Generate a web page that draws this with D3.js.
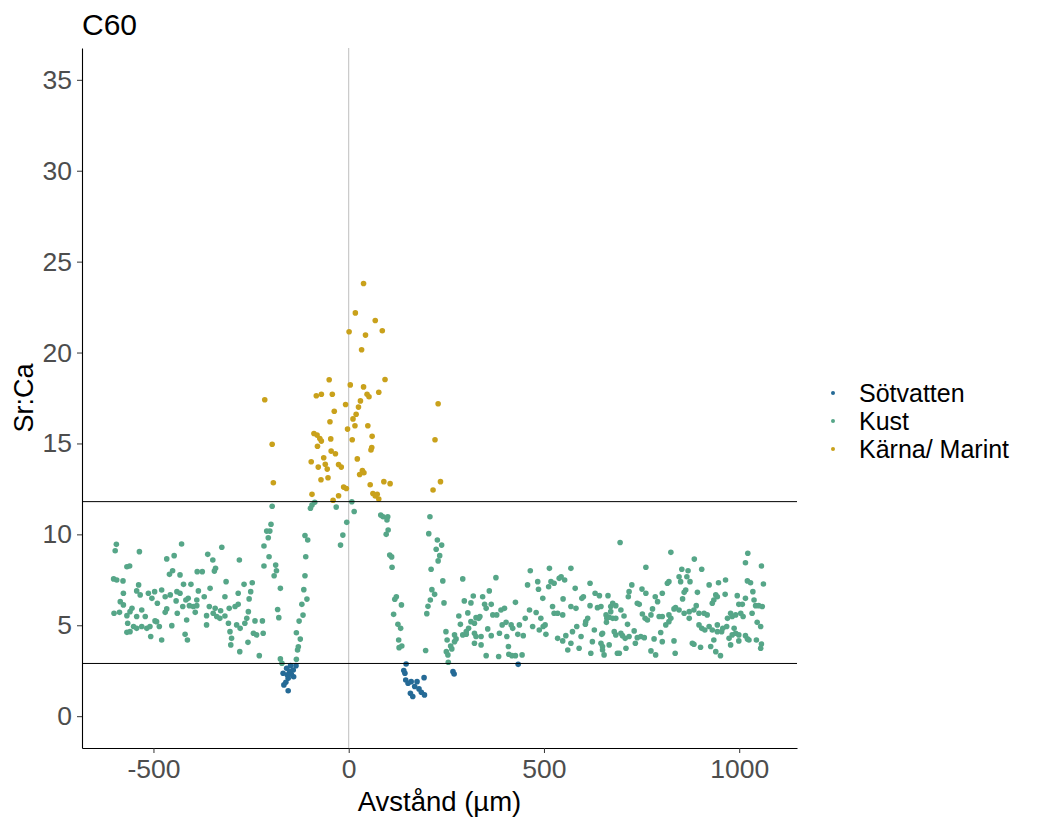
<!DOCTYPE html>
<html>
<head>
<meta charset="utf-8">
<script src="https://cdn.jsdelivr.net/npm/d3@7"></script>
<style>
  body { margin: 0; background: #fff; }
  svg text { font-family: "Liberation Sans", Arial, sans-serif; }
</style>
</head>
<body>
<svg id="chart" width="1040" height="825"></svg>
<script>
// Sr:Ca profile, C60, [avstånd µm, Sr:Ca]
const sotvatten = [
  [-149,2.78],[-135,2.78],[-159,2.63],[-142,2.54],[-168,2.36],[-151,2.45],[-141,2.17],
  [-155,2.08],[-161,1.86],[-166,1.72],[-155,1.40],[-147,2.30],[-157,2.27],
  [147,2.87],[141,2.51],[144,2.36],[146,1.99],[160,1.90],[175,1.90],[193,2.12],
  [169,1.63],[180,1.50],[186,1.32],[194,1.17],[158,1.26],[164,1.08],[152,1.81],
  [267,2.45],[270,2.32],[434,2.85]
];

const kust = [
  // vänster platå
  [-595,9.45],[-598,9.10],[-536,9.05],[-428,9.47],[-325,9.29],[-361,8.90],[-348,8.59],
  [-447,8.83],[-466,8.65],[-280,8.59],[-568,8.22],[-561,8.26],[-341,8.13],[-344,7.98],
  [-451,8.00],[-459,7.80],[-432,7.77],[-388,7.95],[-375,7.95],[-602,7.55],[-594,7.49],
  [-578,7.44],[-538,7.22],[-423,7.25],[-404,7.25],[-314,7.40],[-268,7.25],[-247,7.34],
  [-577,6.76],[-543,6.89],[-534,6.67],[-513,6.76],[-497,6.85],[-504,6.48],[-479,6.94],
  [-470,6.57],[-457,6.67],[-440,6.85],[-432,6.76],[-442,6.34],[-411,6.48],[-417,6.39],
  [-385,6.89],[-370,6.57],[-389,6.39],[-355,7.03],[-317,6.57],[-283,6.76],[-251,6.85],
  [-255,6.45],[-585,6.30],[-577,6.12],[-555,5.93],[-560,5.75],[-530,5.84],[-490,6.21],
  [-466,5.90],[-425,6.03],[-408,6.08],[-398,6.03],[-389,6.08],[-357,6.03],[-342,5.93],
  [-328,5.80],[-347,5.66],[-306,5.93],[-291,6.03],[-283,6.15],[-257,5.75],[-601,5.66],
  [-587,5.71],[-568,5.53],[-543,5.48],[-521,5.48],[-496,5.24],[-470,5.71],[-439,5.66],
  [-415,5.29],[-393,5.71],[-364,5.53],[-330,5.38],[-338,5.48],[-317,5.51],[-308,5.11],
  [-287,5.02],[-278,4.83],[-261,5.38],[-266,5.11],[-240,5.24],[-221,5.24],[-566,5.11],
  [-551,4.93],[-543,4.83],[-530,4.93],[-517,4.83],[-509,4.93],[-492,5.20],[-485,4.93],
  [-453,4.98],[-364,5.02],[-568,4.61],[-560,4.65],[-507,4.38],[-479,4.19],[-419,4.50],
  [-413,4.19],[-304,4.65],[-300,4.28],[-302,3.92],[-258,4.06],[-244,4.56],[-236,4.47],
  [-219,4.56],[-279,3.55],[-229,3.33],
  // nedgång / uppgång runt kärnan
  [-196,11.55],[-199,10.56],[-210,10.18],[-202,10.18],[-206,9.81],[-217,9.36],[-204,8.77],
  [-217,8.26],[-187,8.31],[-185,8.00],[-191,7.72],[-175,7.03],[-182,5.87],[-179,5.42],
  [-175,3.15],[-171,2.91],[-134,3.13],[-131,3.64],[-129,3.82],[-124,4.24],[-134,4.59],
  [-127,5.23],[-117,5.56],[-120,6.15],[-107,6.44],[-115,6.96],[-112,7.72],[-110,8.77],
  [-105,9.69],[-112,9.94],[-98,11.44],[-94,11.61],[-87,11.76],[-32,11.50],[-21,9.41],
  [-15,9.96],[-5,10.66],[8,11.79],[14,11.26],
  [82,11.06],[88,10.97],[100,10.97],[98,10.79],[101,10.24],[96,10.00],[105,8.86],
  [110,8.76],[111,8.19],[122,6.57],[118,6.43],[135,6.12],[115,5.60],[126,5.05],
  [133,4.83],[128,4.19],[136,3.86],[129,3.77],[197,3.61],[208,10.97],[205,10.04],
  [227,9.69],[238,9.41],[224,9.18],[233,8.83],[229,8.54],[211,8.08],[241,7.44],
  [213,6.96],[220,6.70],[209,6.39],[203,6.04],[200,5.64],[244,6.23],[249,4.65],
  [252,4.19],[261,3.86],[264,3.70],[250,3.55],[254,3.37],[255,2.97],
  // höger platå
  [292,7.55],[296,6.34],[313,6.23],[319,6.61],[282,5.51],[286,5.05],[305,5.68],
  [271,4.47],[275,4.25],[292,4.47],[301,4.51],[326,5.42],[322,5.11],[326,4.38],
  [322,4.01],[271,4.10],[301,4.65],[307,4.83],[313,5.20],[322,4.56],[333,5.38],
  [336,5.48],[339,4.38],[339,3.92],[343,6.57],[348,6.15],[352,5.93],[360,6.89],
  [365,6.15],[369,5.57],[356,4.80],[365,4.43],[377,7.62],[379,5.57],[386,4.56],
  [390,5.84],[399,5.93],[393,5.02],[403,5.16],[405,4.38],[409,3.83],[384,3.28],
  [352,3.33],[410,3.41],[418,3.33],[427,3.33],[427,6.26],[416,5.02],[420,4.83],
  [433,4.50],[437,5.02],[444,3.37],[447,4.43],[452,5.38],[463,5.84],[458,7.22],
  [465,8.00],[471,4.93],[480,5.70],[484,7.40],[486,6.98],[488,4.74],[492,5.38],
  [497,6.48],[498,4.93],[503,5.02],[505,4.50],[514,8.13],[512,7.12],[518,7.40],
  [526,7.31],[522,6.03],[526,5.66],[535,5.66],[539,7.58],[544,7.67],[548,5.57],
  [549,6.45],[553,7.49],[535,4.28],[548,4.14],[556,4.43],[561,3.64],[569,8.13],
  [569,4.01],[569,6.03],[573,4.65],[580,7.03],[582,5.93],[584,4.93],[590,3.74],
  [595,4.38],[597,6.48],[601,6.57],[606,5.06],[607,5.20],[612,5.38],[618,7.31],
  [618,6.08],[620,3.46],[624,4.10],[629,4.74],[631,6.76],[637,5.97],[642,6.63],
  [646,4.01],[648,4.50],[650,3.83],[654,3.37],[659,5.57],[661,5.38],[664,6.63],
  [667,3.92],[671,6.03],[676,6.21],[676,5.38],[684,6.08],[688,3.46],[695,9.55],
  [825,9.01],[885,8.64],[761,8.19],[853,8.08],[869,8.00],[904,8.08],[1022,8.96],
  [1016,8.44],[1057,8.26],[846,7.67],[866,7.67],[850,7.40],[874,7.40],[965,7.49],
  [947,7.34],[923,7.22],[1021,7.44],[1029,7.34],[1062,7.27],[816,7.31],[820,7.40],
  [725,7.22],[751,6.99],[761,6.76],[718,6.85],[863,6.94],[859,6.81],[893,6.81],
  [1035,6.85],[716,6.57],[739,6.21],[744,6.15],[646,6.03],[785,6.57],[791,6.30],
  [803,6.76],[855,6.45],[940,6.67],[944,6.57],[935,6.39],[964,6.70],[995,6.63],
  [999,6.15],[1016,6.48],[1008,6.15],[1038,6.39],[1042,6.08],[1050,6.08],[1059,6.03],
  [931,6.21],[697,5.84],[671,5.75],[667,5.44],[705,5.51],[752,5.62],[759,5.38],
  [774,5.57],[778,5.90],[795,5.48],[803,5.48],[820,5.57],[833,5.90],[837,5.97],
  [846,5.84],[825,5.38],[859,5.66],[872,5.75],[884,5.84],[890,6.08],[897,5.66],
  [910,5.66],[918,5.57],[872,5.38],[1033,5.66],[978,5.66],[982,5.48],[991,5.57],
  [1004,5.66],[1010,5.48],[970,5.38],[660,5.16],[684,5.38],[714,5.05],[765,5.29],
  [812,5.02],[820,5.20],[897,5.02],[904,4.83],[923,4.93],[944,5.02],[968,4.93],
  [1046,5.16],[1055,4.93],[650,4.56],[680,4.65],[684,4.47],[697,4.56],[701,4.43],
  [708,4.28],[718,4.38],[731,4.69],[739,4.32],[748,4.38],[757,4.32],[782,4.25],
  [799,4.60],[803,4.10],[833,4.14],[880,4.01],[884,3.96],[901,3.79],[912,4.74],
  [931,4.74],[935,4.19],[944,4.65],[955,4.65],[958,4.83],[974,4.28],[978,3.92],
  [987,4.83],[991,4.56],[982,4.47],[999,4.47],[1016,4.43],[1021,4.25],[1025,4.19],
  [1044,4.19],[1057,3.97],[1055,3.74],[650,3.64],[693,3.46],[710,3.74],[734,4.01],
  [774,3.59],[786,3.37],[836,3.46],[927,3.83],[940,3.55],[952,3.33],[999,4.14]
];

const karna = [
  [-215,17.40],[-196,14.96],[-193,12.84],[-94,12.20],[-83,17.62],[-70,17.71],[-42,17.71],
  [-50,18.50],[4,18.22],[38,18.11],[-8,17.14],[-37,16.77],[30,17.34],[25,17.00],
  [19,16.61],[11,16.35],[16,15.97],[-48,16.19],[-3,15.79],[9,15.20],[-89,15.55],
  [-81,15.46],[-74,15.27],[-70,15.13],[-46,15.25],[-80,14.85],[-45,14.58],[-34,14.43],
  [-64,14.21],[-96,13.99],[-60,13.86],[-26,13.84],[-19,13.70],[-78,13.70],[-55,13.59],
  [22,14.15],[35,13.51],[28,13.29],[-71,13.00],[-53,13.11],[-13,12.60],[-6,12.52],
  [-26,12.12],[-40,11.88],
  [38,23.80],[17,22.18],[68,21.76],[86,21.20],[1,21.14],[43,20.96],[33,20.15],
  [93,18.52],[47,17.70],[52,17.57],[77,17.82],[49,15.97],[60,15.39],[59,14.78],
  [57,14.64],[39,13.39],[55,12.73],[90,12.90],[106,12.79],[62,12.25],[68,12.11],
  [73,12.20],[77,11.94],[229,17.18],[221,15.20],[235,12.90],[216,12.44]
];

const groups = ["Sötvatten", "Kust", "Kärna/ Marint"];
const groupColors = ["#256a96", "#56a688", "#c9a11b"];
const xTicks = [-500, 0, 500, 1000];
const yTicks = [0, 5, 10, 15, 20, 25, 30, 35];
const hlines = [11.8, 2.9];

const margin = { top: 48, right: 243, bottom: 77, left: 82 },
      width = 1040 - margin.left - margin.right,
      height = 825 - margin.top - margin.bottom;

const svg = d3.select("#chart");
const g = svg.append("g")
  .attr("transform", `translate(${margin.left},${margin.top})`);

const x = d3.scaleLinear().domain([-683, 1148]).range([0, width]);
const y = d3.scaleLinear().domain([-1.75, 36.75]).range([height, 0]);
const color = d3.scaleOrdinal().domain(groups).range(groupColors);

// vertical reference at 0
g.append("line")
  .attr("x1", x(0)).attr("x2", x(0))
  .attr("y1", 0).attr("y2", height)
  .attr("stroke", "#bebebe")
  .attr("stroke-width", 1);

const all = [
  ...kust.map(d => ({ x: d[0], y: d[1], grp: "Kust" })),
  ...karna.map(d => ({ x: d[0], y: d[1], grp: "Kärna/ Marint" })),
  ...sotvatten.map(d => ({ x: d[0], y: d[1], grp: "Sötvatten" }))
];

g.selectAll(".pt")
  .data(all)
  .join("circle")
  .attr("class", "pt")
  .attr("cx", d => x(d.x))
  .attr("cy", d => y(d.y))
  .attr("r", 2.8)
  .attr("fill", d => color(d.grp));

g.selectAll(".hline")
  .data(hlines)
  .join("line")
  .attr("class", "hline")
  .attr("x1", 0).attr("x2", width)
  .attr("y1", d => y(d)).attr("y2", d => y(d))
  .attr("stroke", "#000")
  .attr("stroke-width", 1);

// axes, ggplot-style: plain hyphen minus, no thousands separator
const fmt = d => String(d);
const xAxis = g.append("g")
  .attr("transform", `translate(0,${height})`)
  .call(d3.axisBottom(x).tickValues(xTicks).tickFormat(fmt)
    .tickSize(5).tickSizeOuter(0).tickPadding(6));
const yAxis = g.append("g")
  .call(d3.axisLeft(y).tickValues(yTicks).tickFormat(fmt)
    .tickSize(5).tickSizeOuter(0).tickPadding(5));

[xAxis, yAxis].forEach(a => {
  a.select(".domain").attr("stroke", "#000").attr("stroke-width", 1.1);
  a.selectAll(".tick line").attr("stroke", "#333");
  a.selectAll(".tick text")
    .attr("fill", "#4d4d4d")
    .attr("font-size", "26.5px")
    .style("font-family", "'Liberation Sans', Arial, sans-serif");
});

svg.append("text")
  .attr("x", margin.left)
  .attr("y", 35)
  .attr("font-size", "30px")
  .attr("fill", "#000")
  .text("C60");

svg.append("text")
  .attr("x", margin.left + width / 2)
  .attr("y", 811)
  .attr("text-anchor", "middle")
  .attr("font-size", "27.5px")
  .text("Avstånd (µm)");

svg.append("text")
  .attr("transform", `translate(33,${margin.top + height / 2}) rotate(-90)`)
  .attr("text-anchor", "middle")
  .attr("font-size", "27px")
  .text("Sr:Ca");

// legend
const legend = svg.append("g")
  .attr("transform", "translate(833,393)");
const item = legend.selectAll(".item")
  .data(groups)
  .join("g")
  .attr("class", "item")
  .attr("transform", (d, i) => `translate(0,${i * 28})`);
item.append("circle")
  .attr("r", 2)
  .attr("fill", d => color(d));
item.append("text")
  .attr("x", 26)
  .attr("y", 9)
  .attr("font-size", "25px")
  .text(d => d);
</script>
</body>
</html>
